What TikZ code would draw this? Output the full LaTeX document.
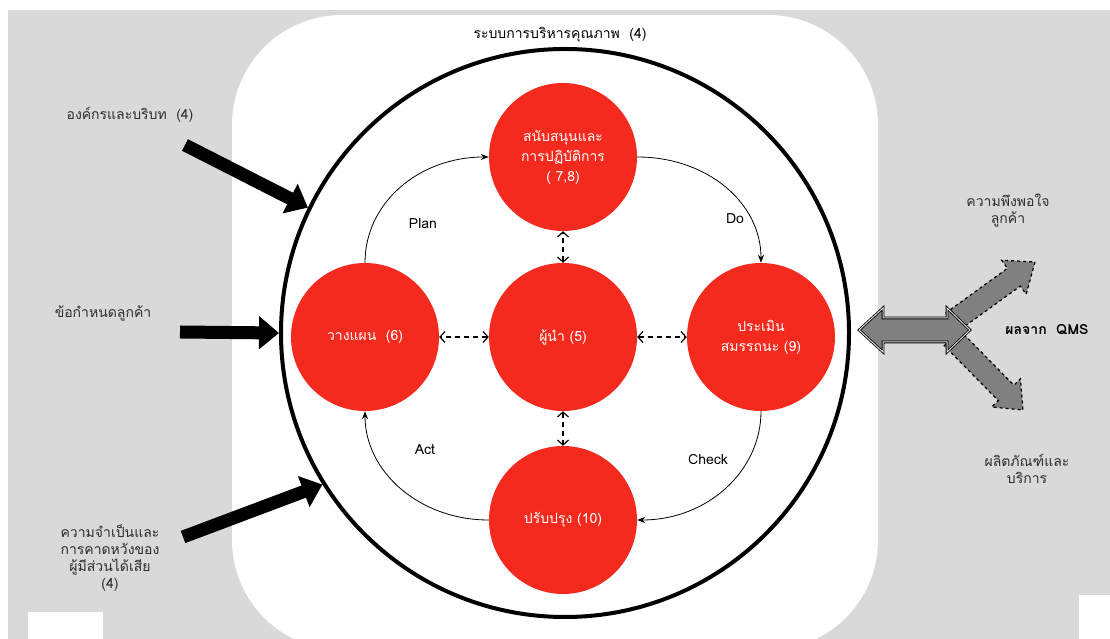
\documentclass[tikz,border=0pt]{standalone}
\usepackage{fontspec}
\setmainfont{Loma}[Script=Thai]
\usetikzlibrary{positioning}
\usetikzlibrary{arrows.meta}
\definecolor{bggray}{RGB}{217,217,217}
\definecolor{phasered}{RGB}{244,42,30}
\definecolor{textgray}{RGB}{45,45,45}
\definecolor{fatgray}{RGB}{128,128,128}
\tikzset{
	phase/.style={circle, inner sep=0pt, minimum size=148pt, fill=phasered, text=white, align=center, font=\fontsize{14}{20}\selectfont},
	sidetext/.style={align=center, text=textgray, font=\fontsize{14}{17}\selectfont},
	% thick black input arrows
	feed/.style={line width=13pt, -{Triangle[length=20pt, width=32pt]}},
	link/.style={line width=1.2pt, dash pattern=on 5pt off 4pt, {Straight Barb[length=5pt, width=11pt]}-{Straight Barb[length=5pt, width=11pt]}},
	turn/.style={line width=0.8pt, -{Stealth[length=8pt, width=6pt]}},
	steptext/.style={font=\fontsize{14}{16}\selectfont},
}

\begin{document}
\begin{tikzpicture}[x=1pt, y=1pt, node distance=198pt]
	\useasboundingbox (0,0) rectangle (1110,639);
	\clip (0,0) rectangle (1110,639);
	
	% background
	\fill[bggray] (8,0) rectangle (1110,629);
	\fill[white, rounded corners=110pt] (232,-11) rectangle (878,624);
	\fill[white] (28,0) rectangle (103,27);
	\fill[white] (1079,0) rectangle (1110,44);
	
	\node (qms) [circle, draw, line width=4pt, inner sep=0pt, minimum size=568pt] at (565,306) {};
	\node (title) [steptext] at (560,604) {ระบบการบริหารคุณภาพ~~(4)};
	
	\node (lead) [phase] at (563,302) {ผู้นำ (5)};
	\node (plan) [phase, left of=lead] {วางแผน~~(6)};
	\node (perf) [phase, right of=lead] {ประเมิน\\สมรรถนะ (9)};
	\node (support) [phase, above of=lead, node distance=180pt] {สนับสนุนและ\\การปฏิบัติการ\\( 7,8)};
	\node (improve) [phase, below of=lead, node distance=183pt] {ปรับปรุง (10)};
	
	\node (plantxt) [steptext] at (423,415) {Plan};
	\node (dotxt) [steptext] at (735,420) {Do};
	\node (checktxt) [steptext] at (708,179) {Check};
	\node (acttxt) [steptext] at (425,189) {Act};
	
	\node (org) [sidetext] at (130,524) {องค์กรและบริบท~~(4)};
	\node (spec) [sidetext] at (103,326) {ข้อกำหนดลูกค้า};
	\node (needs) [sidetext] at (110,81) {ความจำเป็นและ\\การคาดหวังของ\\ผู้มีส่วนได้เสีย\\(4)};
	\coordinate (t1) at (185,494);
	\coordinate (t2) at (180,307);
	\coordinate (t3) at (183,102);
	
	\node (sat) [sidetext] at (1008,428) {ความพึงพอใจ\\ลูกค้า};
	\node (result) [sidetext, text=black, font=\fontsize{14}{17}\selectfont\bfseries] at (1047,309) {ผลจาก~~QMS};
	\node (prod) [sidetext] at (1027,170) {ผลิตภัณฑ์และ\\บริการ};
	
	% QMS output arrows
	\draw[fill=fatgray, dashed, line width=1.2pt] (945.6,325.9) -- (1007.5,370.7) -- (1001.6,378.8) -- (1035,377) -- (1026.2,344.8) -- (1020.3,352.9) -- (958.4,308.1) -- cycle;
	\draw[fill=fatgray, dashed, line width=1.2pt] (959.8,308.7) -- (1013.9,253.8) -- (1020.4,260.2) -- (1023,229) -- (991.8,232) -- (998.3,238.4) -- (944.2,293.3) -- cycle;
	\draw[fill=fatgray, double=white!85!black, double distance=1pt, line width=0.8pt] (859,309) -- (883,331) -- (883,321) -- (947,321) -- (947,331) -- (970,309) -- (947,287) -- (947,297) -- (883,297) -- (883,287) -- cycle;
	
	\begin{scope}[black]
		\draw[feed] (t1) -- (qms.154);
		\draw[feed] (t2) -- (qms.180);
		\draw[feed] (t3) -- (qms.212);
		
		\draw[turn] (plan.north) .. controls +(0,60) and +(-70,0) .. (support.west);
		\draw[turn] (support.east) .. controls +(70,0) and +(0,60) .. (perf.north);
		\draw[turn] (perf.south) .. controls +(0,-60) and +(70,0) .. (improve.east);
		\draw[turn] (improve.west) .. controls +(-70,0) and +(0,-60) .. (plan.south);
		
		\draw[link] (lead) -- (support);
		\draw[link] (lead) -- (improve);
		\draw[link] (lead) -- (plan);
		\draw[link] (lead) -- (perf);
	\end{scope}
	
\end{tikzpicture}
\end{document}
